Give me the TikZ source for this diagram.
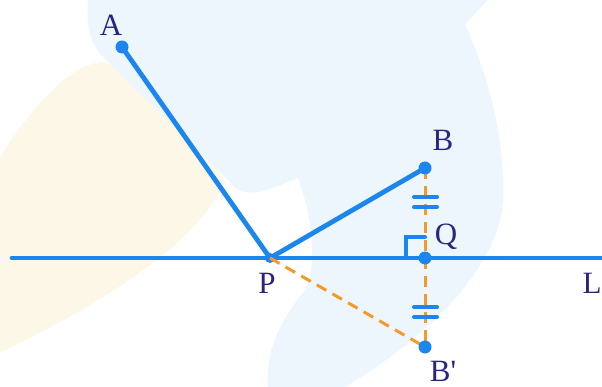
\documentclass[tikz,border=0pt]{standalone}
\usepackage{fontspec}
\setmainfont{Liberation Serif}
\definecolor{bgblue}{HTML}{EEF6FD}
\definecolor{bgyellow}{HTML}{FDF7E7}
\definecolor{mainblue}{HTML}{1A86EE}
\definecolor{dashorange}{HTML}{F39A2B}
\definecolor{labelcol}{HTML}{2B2480}
\begin{document}
\begin{tikzpicture}[x=1pt,y=-1pt,
  seg/.style={mainblue,line width=4.8pt,line cap=round,line join=round},
  aux/.style={dashorange,line width=3pt,dash pattern=on 11pt off 7pt},
  dotmark/.style={mainblue},
  lbl/.style={text=labelcol,font=\fontsize{31}{34}\selectfont,inner sep=0pt,anchor=base},
  tickmark/.style={mainblue,line width=4pt,line cap=round},
  rightmark/.style={mainblue,line width=4pt,line cap=round,line join=miter}]
\useasboundingbox (0,0) rectangle (602,387);
% background blobs
\fill[bgyellow] (0,157) .. controls (30,110) and (70,62) .. (105,62)
  .. controls (150,90) and (200,140) .. (225,182)
  .. controls (205,225) and (150,280) .. (0,353) -- cycle;
\fill[bgblue] (88,0) -- (488,0) -- (465,24)
  .. controls (490,80) and (505,140) .. (503,200)
  .. controls (500,260) and (440,330) .. (345,387) -- (268,387)
  .. controls (265,345) and (285,315) .. (305,290)
  .. controls (318,265) and (312,215) .. (298,178)
  .. controls (280,185) and (260,195) .. (245,192)
  .. controls (235,190) and (232,185) .. (228,180) -- (108,62)
  .. controls (90,45) and (86,30) .. (88,0) -- cycle;
% points
\coordinate (A) at (122,47);
\coordinate (P) at (270,258);
\coordinate (B) at (425,168);
\coordinate (Q) at (425,258);
\coordinate (Bp) at (425,347);
\coordinate (Lleft) at (12,258);
\coordinate (Lright) at (606,258);
% main lines
\draw[seg] (Lleft) -- (Lright);
\draw[seg] (A) -- (P) -- (B);
\fill[dotmark] (P) circle (5pt);
% construction lines
\draw[aux] (B) -- (Bp);
\draw[aux] (P) -- (Bp);
% right angle
\draw[rightmark] ([xshift=-19pt]Q) -- ([xshift=-19pt,yshift=21pt]Q) -- ([yshift=21pt]Q);
% equal ticks
\draw[tickmark] (414,197) -- (437,197);
\draw[tickmark] (414,207) -- (437,207);
\draw[tickmark] (414,307) -- (437,307);
\draw[tickmark] (414,317) -- (437,317);
% dots
\foreach \p in {A,B,Q,Bp} \fill[dotmark] (\p) circle (6.5pt);
% labels
\node[lbl] (lA) at (111,36) {A};
\node[lbl] (lB) at (443,151) {B};
\node[lbl] (lQ) at (446,245) {Q};
\node[lbl] (lP) at (267,293) {P};
\node[lbl] (lL) at (592,293) {L};
\node[lbl] (lBp) at (443,381) {B\textquotesingle};
\end{tikzpicture}
\end{document}
